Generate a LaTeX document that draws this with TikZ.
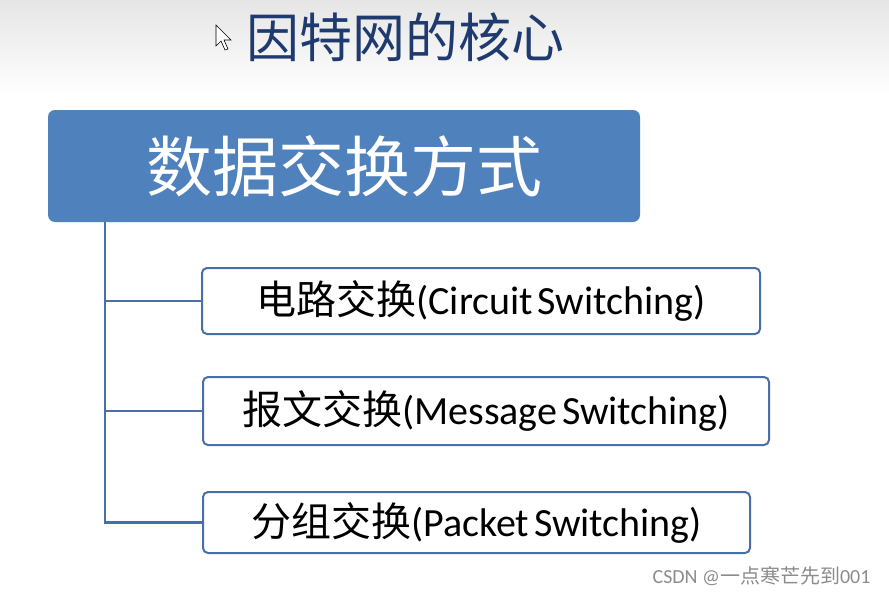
\documentclass[tikz,border=0pt]{standalone}
\usepackage{fontspec}
\setmainfont{Carlito}
\newfontfamily\cjk{Noto Sans CJK SC}
\usepackage{tikz}
\usetikzlibrary{positioning}
\definecolor{boxblue}{HTML}{4F81BD}
\definecolor{lineblue}{HTML}{4A6FA8}
\definecolor{titleblue}{HTML}{1F3A6E}
\newcommand{\tightspace}{\spaceskip 0.12em\relax}
\tikzset{mainbox/.style = {rounded corners=7pt,fill=boxblue,text=white,minimum width=592pt,minimum height=112pt,font=\cjk\fontsize{66}{70}\selectfont},
         subbox/.style = {rounded corners=5pt,draw=lineblue,line width=2pt,fill=white,font=\fontsize{40}{42}\selectfont\tightspace},
         branch/.style = {draw=lineblue,line width=2.8pt}}
\newcommand{\zh}[1]{{\cjk #1}}

\begin{document}
\begin{tikzpicture}[x=1pt,y=-1pt]
        \useasboundingbox (0,0) rectangle (889,594);
        \fill[top color=black!10, bottom color=white] (0,0) rectangle (889,95);
        \node [font=\cjk\fontsize{53}{56}\selectfont,text=titleblue] (title) at (405,37) {因特网的核心};
        \draw[fill=white,line width=0.6pt] (216,25) -- (216,46) -- (221,41) -- (225,50) -- (228,49) -- (224,40) -- (231,40) -- cycle;
        \node [mainbox] (main) at (344,166) {数据交换方式};
        \node [subbox,minimum width=558pt,minimum height=66pt] (circuit) at (481,301) {\zh{电路交换}(Circuit Switching)};
        \node [subbox,minimum width=566pt,minimum height=68pt] (message) at (486,411) {\zh{报文交换}(Message Switching)};
        \node [subbox,minimum width=547pt,minimum height=61pt] (packet) at (476.5,522.5) {\zh{分组交换}(Packet Switching)};
        \coordinate (trunk) at (105,222);
        \draw[branch] (trunk) |- (circuit.west);
        \draw[branch] (trunk) |- (message.west);
        \draw[branch] (trunk) |- (packet.west);
        \node [text=black!45,font=\fontsize{20}{22}\selectfont,anchor=east] (mark) at (874,576) {CSDN @\zh{一点寒芒先到}001};
    \end{tikzpicture}
\end{document}
